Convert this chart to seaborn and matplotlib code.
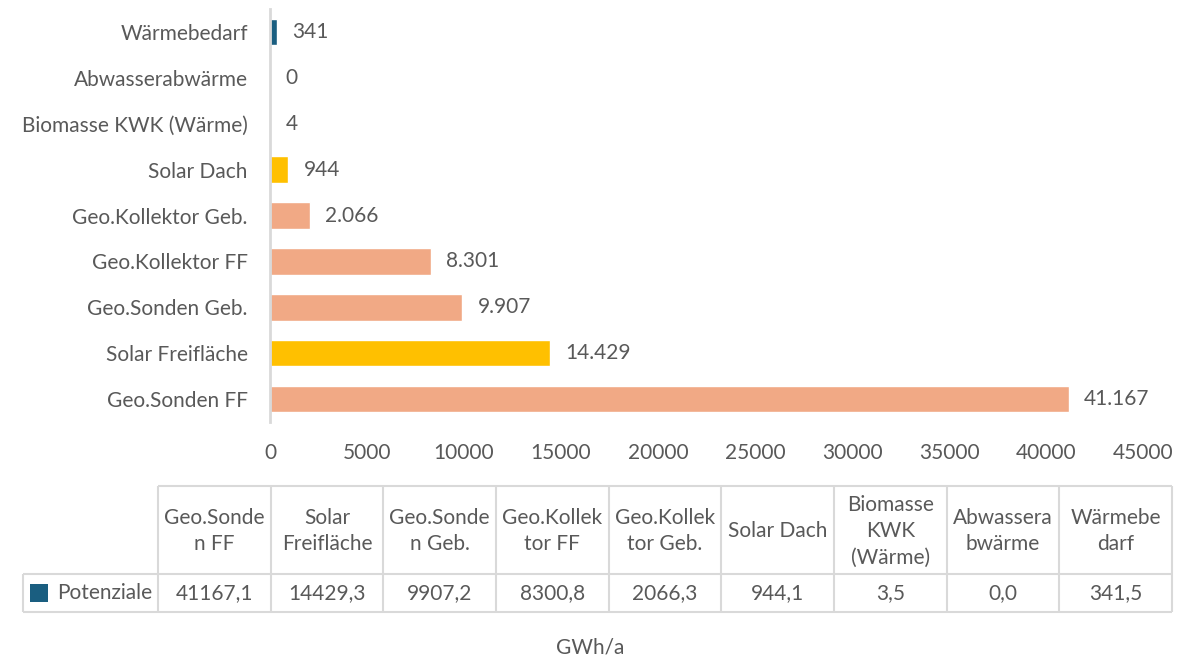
import matplotlib
matplotlib.use("Agg")
import matplotlib.pyplot as plt
import seaborn as sns
import pandas as pd

# data (order as in the data table)
categories = ["Geo.Sonden FF", "Solar Freifläche", "Geo.Sonden Geb.", "Geo.Kollektor FF",
              "Geo.Kollektor Geb.", "Solar Dach", "Biomasse KWK (Wärme)",
              "Abwasserabwärme", "Wärmebedarf"]
header_labels = ["Geo.Sonde\nn FF", "Solar\nFreifläche", "Geo.Sonde\nn Geb.", "Geo.Kollek\ntor FF",
                 "Geo.Kollek\ntor Geb.", "Solar Dach", "Biomasse\nKWK\n(Wärme)",
                 "Abwassera\nbwärme", "Wärmebe\ndarf"]
potenziale = [41167.1, 14429.3, 9907.2, 8300.8, 2066.3, 944.1, 3.5, 0.0, 341.46]
series_name = "Potenziale"
unit = "GWh/a"

salmon = "#F1A985"
yellow = "#FFC000"
blue = "#1A5E80"
text_col = "#595959"
line_col = "#D9D9D9"
colors = {c: salmon for c in categories}
colors["Solar Freifläche"] = yellow
colors["Solar Dach"] = yellow
colors["Wärmebedarf"] = blue

df = pd.DataFrame({"cat": categories, "val": potenziale})

sns.set_style("white")
plt.rcParams["font.family"] = ["Lato", "DejaVu Sans"]
plt.rcParams["text.color"] = text_col
fs = 15

W, H = 1180, 658
fig = plt.figure(figsize=(11.8, 6.58), dpi=100)
ax = fig.add_axes([270 / W, 1 - 422 / H, 873 / W, 413 / H])

order = categories[::-1]
sns.barplot(data=df, y="cat", x="val", hue="cat", order=order, hue_order=order,
            palette=colors, width=0.58, legend=False, ax=ax, saturation=1)

for v, c in zip(potenziale, categories):
    lbl = f"{v:,.0f}".replace(",", ".")
    ax.annotate(lbl, xy=(v, order.index(c)), xytext=(11, 0), textcoords="offset points",
                va="center", ha="left", fontsize=fs, color=text_col)

ax.set_xlim(0, 45000)
ax.set_xticks(range(0, 45001, 5000))
ax.set_xlabel("")
ax.set_ylabel("")
ax.tick_params(axis="x", length=0, pad=15, labelsize=fs, labelcolor=text_col)
ax.tick_params(axis="y", length=0, pad=16, labelsize=fs, labelcolor=text_col)
for s in ["top", "right", "bottom"]:
    ax.spines[s].set_visible(False)
ax.spines["left"].set_color(line_col)
ax.spines["left"].set_linewidth(2)

# data table below the chart (overlay axes in pixel units)
tax = fig.add_axes([0, 0, 1, 1])
tax.set_xlim(0, W)
tax.set_ylim(H, 0)
tax.axis("off")

x_lab, x0, x1 = 23, 158, 1172
y0, y1, y2 = 486, 574, 612
n = len(categories)
cw = (x1 - x0) / n
edges = [x0 + i * cw for i in range(n + 1)]
lw = 1.5
tax.hlines([y0], x0, x1, color=line_col, lw=lw)
tax.hlines([y1, y2], x_lab, x1, color=line_col, lw=lw)
tax.vlines(edges, y0, y2, color=line_col, lw=lw)
tax.vlines([x_lab], y1, y2, color=line_col, lw=lw)

for i, (h, v) in enumerate(zip(header_labels, potenziale)):
    xc = edges[i] + cw / 2
    tax.text(xc, (y0 + y1) / 2 + 1, h, ha="center", va="center", fontsize=fs,
             linespacing=1.4, color=text_col)
    tax.text(xc, (y1 + y2) / 2, f"{v:.1f}".replace(".", ","), ha="center", va="center",
             fontsize=fs, color=text_col)

# legend key + series name
tax.scatter([39], [(y1 + y2) / 2], marker="s", s=150, color=blue, linewidths=0)
tax.text(x0 - 6, (y1 + y2) / 2, series_name, ha="right", va="center", fontsize=fs,
         color=text_col)

fig.text(0.5, 1 - 648 / H, unit, ha="center", va="center", fontsize=fs, color=text_col)

fig.savefig("out.png", dpi=100)
